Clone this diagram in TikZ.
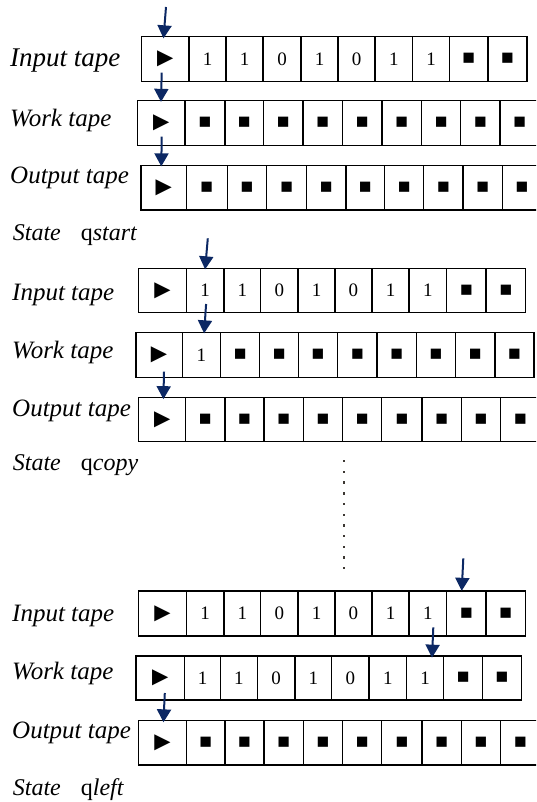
\documentclass[tikz,border=0pt]{standalone}
\usepackage{fontspec}
\setmainfont{Liberation Serif}
\usetikzlibrary{arrows.meta,calc}

\definecolor{navy}{RGB}{12,40,100}
\definecolor{dotc}{RGB}{60,55,50}

% tape symbols
\newcommand\tri{{\fontsize{27}{27}\selectfont ►}}
\newcommand\blk{{\fontsize{21}{21}\selectfont ■}}

\tikzset{
  cell/.style={draw, line width=1.3pt, inner sep=0pt, font=\fontsize{19}{19}\selectfont},
  lbl/.style={anchor=base west, inner sep=0pt, font=\fontsize{25}{25}\selectfont\itshape},
  statelbl/.style={anchor=base west, inner sep=0pt, font=\fontsize{24}{24}\selectfont},
  head/.style={draw=navy, line width=2pt, -{Triangle[width=14pt,length=13pt]}}
}

% one tape: name, top, bottom, list of left/right/content
\newcommand\tapeRow[4]{%
  \foreach \l/\r/\c [count=\k] in {#4} {
    \node[cell, minimum width={(\r-\l)*1pt}, minimum height={(#3-#2)*1pt}]
      (#1-\k) at ({(\l+\r)/2},{(#2+#3)/2}) {\c};
  }%
}

\begin{document}
\begin{tikzpicture}[x=1pt,y=-1pt]
\clip (0,0) rectangle (536,802);
\fill[white] (0,0) rectangle (536,802);

% ---------- first configuration ----------
\node[lbl, font=\fontsize{27}{27}\selectfont\itshape] (l1in) at (10,66.7) {Input tape};
\node[lbl] (l1wk) at (10,126.7) {Work tape};
\node[lbl] (l1out) at (10,183.3) {Output tape};
\node[statelbl] (s1) at (12.7,240.7) {\textit{State}\hspace{20pt}q\textit{start}};

\tapeRow{in1}{36.5}{81.5}{141.5/189/\tri, 189/226/1, 226/263/1, 263/301/0, 301/338/1,
  338/375/0, 375/412.6/1, 412.6/449.5/1, 449.5/488/\blk, 488/527/\blk}
\tapeRow{wk1}{100.7}{145.7}{137.5/185/\tri, 185/225/\blk, 225/263.5/\blk, 263.5/303/\blk,
  303/342.5/\blk, 342.5/382/\blk, 382/421.5/\blk, 421.5/460.8/\blk, 460.8/500.1/\blk, 500.1/539.5/\blk}
\tapeRow{out1}{165.5}{210}{141/186.3/\tri, 186.3/227.3/\blk, 227.3/266.6/\blk, 266.6/306.6/\blk,
  306.6/345.9/\blk, 345.9/384.5/\blk, 384.5/423.8/\blk, 423.8/463/\blk, 463/502.4/\blk, 502.4/541.7/\blk}

\coordinate (h1) at (166,7);
\coordinate (h2) at (161.7,72.7);
\coordinate (h3) at (161.7,136.7);
\draw[head] (h1) -- ($(in1-1.north)+(-1.75,2.5)$);
\draw[head] (h2) -- ($(wk1-1.north)+(-0.25,1.8)$);
\draw[head] (h3) -- ($(out1-1.north)+(-2.35,1.5)$);

% ---------- second configuration ----------
\node[lbl] (l2in) at (12,300) {Input tape};
\node[lbl] (l2wk) at (12,358.3) {Work tape};
\node[lbl] (l2out) at (12,416.7) {Output tape};
\node[statelbl] (s2) at (12.7,470.7) {\textit{State}\hspace{20pt}q\textit{copy}};

\tapeRow{in2}{268.3}{312.7}{138.8/186.3/\tri, 186.3/223.9/1, 223.9/260.8/1, 260.8/298/0, 298/335/1,
  335/371.9/0, 371.9/409.1/1, 409.1/446.7/1, 446.7/486/\blk, 486/525.7/\blk}
\tapeRow{wk2}{332.7}{377.3}{136/182.2/\tri, 182.2/220.5/1, 220.5/259.8/\blk, 259.8/298.4/\blk,
  298.4/337.7/\blk, 337.7/377/\blk, 377/416.3/\blk, 416.3/455.6/\blk, 455.6/494.9/\blk, 494.9/533.9/\blk}
\tapeRow{out2}{397.3}{441.7}{138.8/185.6/\tri, 185.6/224.9/\blk, 224.9/263.9/\blk, 263.9/303.5/\blk,
  303.5/342.5/\blk, 342.5/381.8/\blk, 381.8/422.1/\blk, 422.1/461.4/\blk, 461.4/500.7/\blk, 500.7/540/\blk}

\coordinate (h4) at (207.8,238.3);
\coordinate (h5) at (206.1,304);
\coordinate (h6) at (164,371.7);
\draw[head] (h4) -- ($(in2-2.north)+(0,1.7)$);
\draw[head] (h5) -- ($(wk2-2.north)+(2.75,1.3)$);
\draw[head] (h6) -- ($(out2-1.north)+(1.2,2.5)$);

% vertical ellipsis between configurations
\foreach \i in {0,...,10}
  \fill[dotc] (343.2,{460+\i*10.7}) rectangle ++(2.2,2.4);

% ---------- final configuration ----------
\node[lbl] (l3in) at (12,621.7) {Input tape};
\node[lbl] (l3wk) at (12,679.3) {Work tape};
\node[lbl] (l3out) at (12,738.3) {Output tape};
\node[statelbl] (s3) at (12.7,795) {\textit{State}\hspace{20pt}q\textit{left}};

\tapeRow{in3}{591}{636}{138.8/186.3/\tri, 186.3/223.9/1, 223.9/260.8/1, 260.8/298/0, 298/335/1,
  335/371.9/0, 371.9/409.1/1, 409.1/446.7/1, 446.7/486/\blk, 486/525.5/\blk}
\tapeRow{wk3}{656}{700}{136/184.6/\tri, 184.6/220.5/1, 220.5/257.4/1, 257.4/295/0, 295/331.5/1,
  331.5/369.1/0, 369.1/406.7/1, 406.7/443.7/1, 443.7/482.5/\blk, 482.5/521.2/\blk}
\tapeRow{out3}{720.5}{765}{138.8/186.3/\tri, 186.3/224.9/\blk, 224.9/263.9/\blk, 263.9/303.5/\blk,
  303.5/342.5/\blk, 342.5/381.8/\blk, 381.8/422.1/\blk, 422.1/461.4/\blk, 461.4/500.7/\blk, 500.7/540/\blk}

\coordinate (h7) at (463.3,558.3);
\coordinate (h8) at (433.3,627.3);
\coordinate (h9) at (164.8,693);
\draw[head] (h7) -- ($(in3-9.north)+(-4.65,0.5)$);
\draw[head] (h8) -- ($(wk3-8.north)+(6.8,2.3)$);
\draw[head] (h9) -- ($(out3-1.north)+(0.85,2.5)$);
\end{tikzpicture}
\end{document}
